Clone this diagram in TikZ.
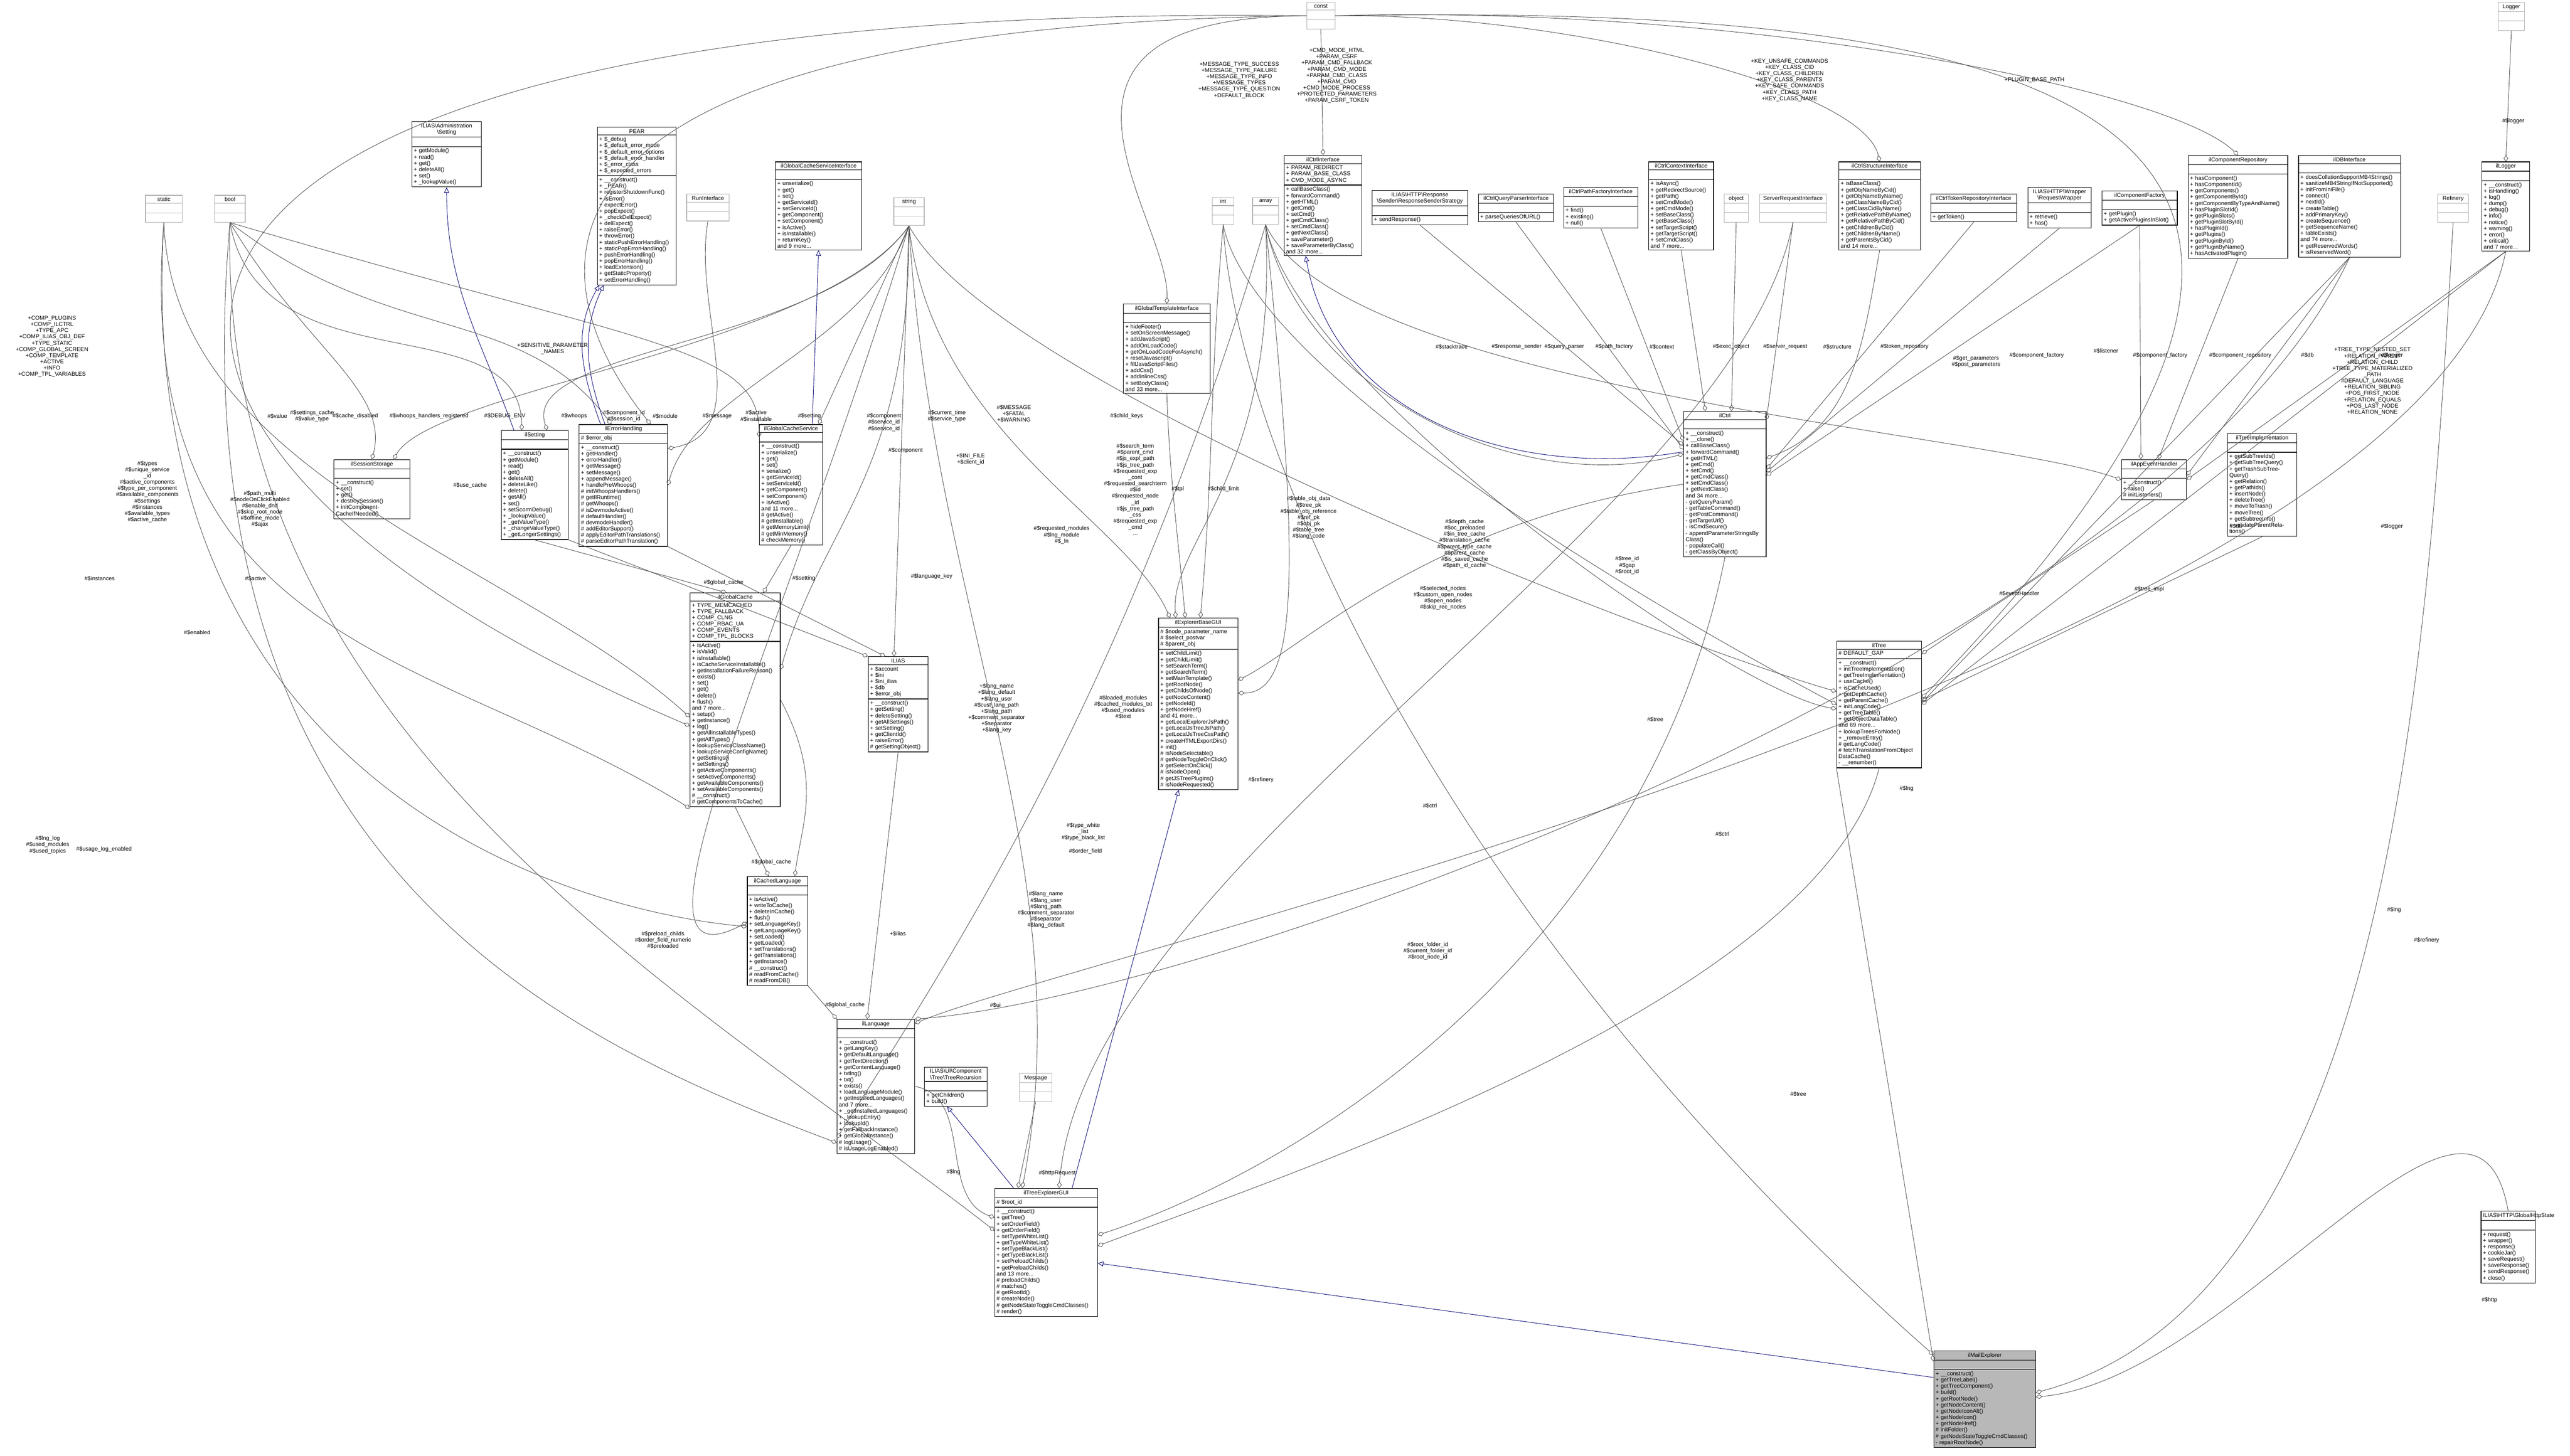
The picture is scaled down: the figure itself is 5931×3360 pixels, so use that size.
\documentclass[tikz,border=0pt]{standalone}
\usepackage{fontspec}
\setmainfont{Liberation Sans}
\usetikzlibrary{shapes.multipart,arrows.meta}
\newlength\pxu \setlength\pxu{0.01cm}
\newcommand\cf{\fontsize{3.7}{4.1}\selectfont}
\newcommand\mys{\rule[-1pt]{0pt}{3.6pt}}
\newcommand\bs{\textbackslash}
\tikzset{
 cls/.style={rectangle split, rectangle split parts=3, draw=black, line width=0.4pt, fill=white,
   anchor=north west, align=left, inner xsep=1.2pt, inner ysep=1.1pt, font=\cf},
 gcls/.style={cls, draw=black!30},
 agg/.style={draw=black!70, line width=0.3pt, -{Diamond[open,length=4.2pt,width=3pt]}},
 inh/.style={draw=blue!45!black, line width=0.3pt, -{Triangle[open,length=3.6pt,width=3.2pt]}},
 lbl/.style={font=\cf, align=center, inner sep=0.5pt}
}
\newcommand\cls[7][]{\node[cls,#1,text width=\dimexpr#5\pxu-2.4pt\relax] (#2) at (#3,#4)
 {{\centering #6\par}\nodepart{two}\mys#7\nodepart{three}\mys};}
\newcommand\clsm[8][]{\node[cls,#1,text width=\dimexpr#5\pxu-2.4pt\relax] (#2) at (#3,#4)
 {{\centering #6\par}\nodepart{two}\mys#7\nodepart{three}#8};}
\begin{document}
\begin{tikzpicture}[x=0.01cm,y=-0.01cm]
\useasboundingbox[fill=white] (0,0) rectangle (5931,3360);
% ---------- gray boxes
\cls[gcls]{const}{3015}{5}{65}{const}{}
\cls[gcls]{Logger}{5765}{5}{60}{Logger}{}
\cls[gcls]{static}{335}{450}{85}{static}{}
\cls[gcls]{bool}{495}{450}{70}{bool}{}
\cls[gcls]{string}{2062}{455}{70}{string}{}
\cls[gcls]{int}{2797}{455}{50}{int}{}
\cls[gcls]{array}{2890}{455}{60}{array}{}
\cls[gcls]{run}{1584}{447}{98}{RunInterface}{}
\cls[gcls]{object}{3978}{447}{56}{object}{}
\cls[gcls]{sri}{4060}{447}{154}{ServerRequestInterface}{}
\cls[gcls]{refinery}{5625}{447}{71}{Refinery}{}
\cls[gcls]{message}{2352}{2477}{75}{Message}{}
% ---------- top row
\clsm{admset}{950}{280}{160}{ILIAS\bs{}Administration\\\bs{}Setting}{}{+ getModule()\\+ read()\\+ get()\\+ deleteAll()\\+ set()\\+ \_lookupValue()}
\clsm{pear}{1378}{293}{182}{PEAR}{+ \$\_debug\\+ \$\_default\_error\_mode\\+ \$\_default\_error\_options\\+ \$\_default\_error\_handler\\+ \$\_error\_class\\+ \$\_expected\_errors}{+ \_\_construct()\\+ \_PEAR()\\+ registerShutdownFunc()\\+ isError()\\+ expectError()\\+ popExpect()\\+ \_checkDelExpect()\\+ delExpect()\\+ raiseError()\\+ throwError()\\+ staticPushErrorHandling()\\+ staticPopErrorHandling()\\+ pushErrorHandling()\\+ popErrorHandling()\\+ loadExtension()\\+ getStaticProperty()\\+ setErrorHandling()}
\clsm{gcsi}{1789}{373}{199}{ilGlobalCacheServiceInterface}{}{+ unserialize()\\+ get()\\+ set()\\+ getServiceId()\\+ setServiceId()\\+ getComponent()\\+ setComponent()\\+ isActive()\\+ isInstallable()\\+ returnKey()\\and 9 more...}
\clsm{gti}{2592}{701}{200}{ilGlobalTemplateInterface}{}{+ hideFooter()\\+ setOnScreenMessage()\\+ addJavaScript()\\+ addOnLoadCode()\\+ getOnLoadCodeForAsynch()\\+ resetJavascript()\\+ fillJavaScriptFiles()\\+ addCss()\\+ addInlineCss()\\+ setBodyClass()\\and 33 more...}
\clsm{ctrlif}{2963}{358}{179}{ilCtrlInterface}{+ PARAM\_REDIRECT\\+ PARAM\_BASE\_CLASS\\+ CMD\_MODE\_ASYNC}{+ callBaseClass()\\+ forwardCommand()\\+ getHTML()\\+ getCmd()\\+ setCmd()\\+ getCmdClass()\\+ setCmdClass()\\+ getNextClass()\\+ saveParameter()\\+ saveParameterByClass()\\and 32 more...}
\clsm{resp}{3166}{439}{220}{ILIAS\bs{}HTTP\bs{}Response\\\bs{}Sender\bs{}ResponseSenderStrategy}{}{+ sendResponse()}
\clsm{qp}{3411}{447}{174}{ilCtrlQueryParserInterface}{}{+ parseQueriesOfURL()}
\clsm{pf}{3608}{432}{171}{ilCtrlPathFactoryInterface}{}{+ find()\\+ existing()\\+ null()}
\clsm{ctx}{3804}{373}{150}{ilCtrlContextInterface}{}{+ isAsync()\\+ getRedirectSource()\\+ getPath()\\+ setCmdMode()\\+ getCmdMode()\\+ setBaseClass()\\+ getBaseClass()\\+ setTargetScript()\\+ getTargetScript()\\+ setCmdClass()\\and 7 more...}
\clsm{struct}{4243}{373}{188}{ilCtrlStructureInterface}{}{+ isBaseClass()\\+ getObjNameByCid()\\+ getObjNameByName()\\+ getClassNameByCid()\\+ getClassCidByName()\\+ getRelativePathByName()\\+ getRelativePathByCid()\\+ getChildrenByCid()\\+ getChildrenByName()\\+ getParentsByCid()\\and 14 more...}
\clsm{token}{4455}{447}{198}{ilCtrlTokenRepositoryInterface}{}{+ getToken()}
\clsm{reqw}{4679}{432}{146}{ILIAS\bs{}HTTP\bs{}Wrapper\\\bs{}RequestWrapper}{}{+ retrieve()\\+ has()}
\clsm{compf}{4850}{440}{174}{ilComponentFactory}{}{+ getPlugin()\\+ getActivePluginsInSlot()}
\clsm{comprep}{5049}{358}{230}{ilComponentRepository}{}{+ hasComponent()\\+ hasComponentId()\\+ getComponents()\\+ getComponentById()\\+ getComponentByTypeAndName()\\+ hasPluginSlotId()\\+ getPluginSlots()\\+ getPluginSlotById()\\+ hasPluginId()\\+ getPlugins()\\+ getPluginById()\\+ getPluginByName()\\+ hasActivatedPlugin()}
\clsm{dbi}{5304}{358}{235}{ilDBInterface}{}{+ doesCollationSupportMB4Strings()\\+ sanitizeMB4StringIfNotSupported()\\+ initFromIniFile()\\+ connect()\\+ nextId()\\+ createTable()\\+ addPrimaryKey()\\+ createSequence()\\+ getSequenceName()\\+ tableExists()\\and 74 more...\\+ getReservedWords()\\+ isReservedWord()}
\clsm{logger}{5727}{373}{110}{ilLogger}{}{+ \_\_construct()\\+ isHandling()\\+ log()\\+ dump()\\+ debug()\\+ info()\\+ notice()\\+ warning()\\+ error()\\+ critical()\\and 7 more...}
% ---------- middle
\clsm{sess}{770}{1060}{175}{ilSessionStorage}{}{+ \_\_construct()\\+ set()\\+ get()\\+ destroySession()\\+ initComponentCacheIfNeeded()}
\clsm{setting}{1156}{993}{155}{ilSetting}{}{+ \_\_construct()\\+ getModule()\\+ read()\\+ get()\\+ deleteAll()\\+ deleteLike()\\+ delete()\\+ getAll()\\+ set()\\+ setScormDebug()\\+ \_lookupValue()\\+ \_getValueType()\\+ \_changeValueType()\\+ \_getLongerSettings()}
\clsm{err}{1336}{979}{204}{ilErrorHandling}{\# \$error\_obj}{+ \_\_construct()\\+ getHandler()\\+ errorHandler()\\+ getMessage()\\+ setMessage()\\+ appendMessage()\\+ handlePreWhoops()\\\# initWhoopsHandlers()\\\# getIlRuntime()\\\# getWhoops()\\\# isDevmodeActive()\\\# defaultHandler()\\\# devmodeHandler()\\\# addEditorSupport()\\\# applyEditorPathTranslations()\\\# parseEditorPathTranslation()}
\clsm{gcs}{1752}{979}{146}{ilGlobalCacheService}{}{+ \_\_construct()\\+ unserialize()\\+ get()\\+ set()\\+ serialize()\\+ getServiceId()\\+ setServiceId()\\+ getComponent()\\+ setComponent()\\+ isActive()\\and 11 more...\\\# getActive()\\\# getInstallable()\\\# getMemoryLimit()\\\# getMinMemory()\\\# checkMemory()}
\clsm{ctrl}{3885}{949}{190}{ilCtrl}{}{+ \_\_construct()\\+ \_\_clone()\\+ callBaseClass()\\+ forwardCommand()\\+ getHTML()\\+ getCmd()\\+ setCmd()\\+ getCmdClass()\\+ setCmdClass()\\+ getNextClass()\\and 34 more...\\- getQueryParam()\\- getTableCommand()\\- getPostCommand()\\- getTargetUrl()\\- isCmdSecure()\\- appendParameterStringsBy\\Class()\\- populateCall()\\- getClassByObject()}
\clsm{aeh}{4895}{1060}{150}{ilAppEventHandler}{}{+ \_\_construct()\\+ raise()\\\# initListeners()}
\clsm{timpl}{5140}{1000}{160}{ilTreeImplementation}{}{+ getSubTreeIds()\\+ getSubTreeQuery()\\+ getTrashSubTreeQuery()\\+ getRelation()\\+ getPathIds()\\+ insertNode()\\+ deleteTree()\\+ moveToTrash()\\+ moveTree()\\+ getSubtreeInfo()\\+ validateParentRelations()}
\clsm{gc}{1592}{1368}{208}{ilGlobalCache}{+ TYPE\_MEMCACHED\\+ TYPE\_FALLBACK\\+ COMP\_CLNG\\+ COMP\_RBAC\_UA\\+ COMP\_EVENTS\\+ COMP\_TPL\_BLOCKS}{+ isActive()\\+ isValid()\\+ isInstallable()\\+ isCacheServiceInstallable()\\+ getInstallationFailureReason()\\+ exists()\\+ set()\\+ get()\\+ delete()\\+ flush()\\and 7 more...\\+ setup()\\+ getInstance()\\+ log()\\+ getAllInstallableTypes()\\+ getAllTypes()\\+ lookupServiceClassName()\\+ lookupServiceConfigName()\\+ getSettings()\\+ setSettings()\\+ getActiveComponents()\\+ setActiveComponents()\\+ getAvailableComponents()\\+ setAvailableComponents()\\\# \_\_construct()\\\# getComponentsToCache()}
\clsm{ilias}{2003}{1515}{138}{ILIAS}{+ \$account\\+ \$ini\\+ \$ini\_ilias\\+ \$db\\+ \$error\_obj}{+ \_\_construct()\\+ getSetting()\\+ deleteSetting()\\+ getAllSettings()\\+ setSetting()\\+ getClientId()\\+ raiseError()\\\# getSettingObject()}
\clsm{ebgui}{2673}{1426}{183}{ilExplorerBaseGUI}{\# \$node\_parameter\_name\\\# \$select\_postvar\\\# \$parent\_obj}{+ setChildLimit()\\+ getChildLimit()\\+ setSearchTerm()\\+ getSearchTerm()\\+ setMainTemplate()\\+ getRootNode()\\+ getChildsOfNode()\\+ getNodeContent()\\+ getNodeId()\\+ getNodeHref()\\and 41 more...\\+ getLocalExplorerJsPath()\\+ getLocalJsTreeJsPath()\\+ getLocalJsTreeCssPath()\\+ createHTMLExportDirs()\\+ init()\\\# isNodeSelectable()\\\# getNodeToggleOnClick()\\\# getSelectOnClick()\\\# isNodeOpen()\\\# getJSTreePlugins()\\\# isNodeRequested()}
\clsm{tree}{4238}{1479}{196}{ilTree}{\# DEFAULT\_GAP}{+ \_\_construct()\\+ initTreeImplementation()\\+ getTreeImplementation()\\+ useCache()\\+ isCacheUsed()\\+ getDepthCache()\\+ getParentCache()\\+ initLangCode()\\+ getTreeTable()\\+ getObjectDataTable()\\and 69 more...\\+ lookupTreesForNode()\\+ \_removeEntry()\\\# getLangCode()\\\# fetchTranslationFromObject\\DataCache()\\- \_\_renumber()}
\clsm{clang}{1724}{2022}{139}{ilCachedLanguage}{}{+ isActive()\\+ writeToCache()\\+ deleteInCache()\\+ flush()\\+ setLanguageKey()\\+ getLanguageKey()\\+ setLoaded()\\+ getLoaded()\\+ setTranslations()\\+ getTranslations()\\+ getInstance()\\\# \_\_construct()\\\# readFromCache()\\\# readFromDB()}
\clsm{lang}{1931}{2352}{179}{ilLanguage}{}{+ \_\_construct()\\+ getLangKey()\\+ getDefaultLanguage()\\+ getTextDirection()\\+ getContentLanguage()\\+ txtlng()\\+ txt()\\+ exists()\\+ loadLanguageModule()\\+ getInstalledLanguages()\\and 7 more...\\+ \_getInstalledLanguages()\\+ \_lookupEntry()\\+ lookupId()\\+ getFallbackInstance()\\+ getGlobalInstance()\\\# logUsage()\\\# isUsageLogEnabled()}
\clsm{rec}{2133}{2462}{144}{ILIAS\bs{}UI\bs{}Component\\\bs{}Tree\bs{}TreeRecursion}{}{+ getChildren()\\+ build()}
\clsm{tegui}{2295}{2742}{237}{ilTreeExplorerGUI}{\# \$root\_id}{+ \_\_construct()\\+ getTree()\\+ setOrderField()\\+ getOrderField()\\+ setTypeWhiteList()\\+ getTypeWhiteList()\\+ setTypeBlackList()\\+ getTypeBlackList()\\+ setPreloadChilds()\\+ getPreloadChilds()\\and 13 more...\\\# preloadChilds()\\\# matches()\\\# getRootId()\\\# createNode()\\\# getNodeStateToggleCmdClasses()\\\# render()}
\clsm{http}{5725}{2795}{125}{ILIAS\bs{}HTTP\bs{}GlobalHttpState}{}{+ request()\\+ wrapper()\\+ response()\\+ cookieJar()\\+ saveRequest()\\+ saveResponse()\\+ sendResponse()\\+ close()}
\clsm[fill=black!28]{mail}{4462}{3117}{235}{ilMailExplorer}{}{+ \_\_construct()\\+ getTreeLabel()\\+ getTreeComponent()\\+ build()\\+ getRootNode()\\+ getNodeContent()\\+ getNodeIconAlt()\\+ getNodeIcon()\\+ getNodeHref()\\\# initFolder()\\\# getNodeStateToggleCmdClasses()\\- repairRootNode()}
% ---------- inheritance
\draw[inh] ([yshift=0.5cm]mail.west) -- ([yshift=-0.25cm]tegui.east);
\draw[inh] ([xshift=0.6cm]tegui.north) -- ([xshift=-0.45cm]ebgui.south);
\draw[inh] ([xshift=-0.75cm]tegui.north) -- ([xshift=-0.2cm]rec.south);
\draw[inh] ([yshift=0.75cm]ctrl.west) to[out=190,in=-80] ([xshift=-0.4cm]ctrlif.south);
\draw[inh] ([xshift=0.5cm]err.north west) to[out=110,in=-120] ([xshift=0.05cm]pear.south west);
\draw[inh] ([xshift=0.6cm]err.north west) to[out=110,in=-115] ([xshift=0.15cm]pear.south west);
\draw[inh] ([xshift=0.3cm]setting.north west) to[out=110,in=-90] (admset.south);
\draw[inh] ([xshift=-0.25cm]gcs.north east) -- ([xshift=0cm]gcsi.south);
% ---------- aggregations
\draw[agg] (tree.south west) -- ([yshift=-0.25cm]mail.north west);
\draw[agg] (int.south) .. controls (2850,1000) and (3300,2100) .. ([yshift=-0.1cm]mail.north west);
\draw[agg] (http.north) to[out=100,in=5] ([yshift=0.05cm]mail.east);
\draw[agg] (refinery.south) .. controls (5600,1600) and (5500,3000) .. ([yshift=0.15cm]mail.east);
\draw[agg] (tree.south) .. controls (4200,2300) and (3000,2700) .. ([yshift=0.15cm]tegui.east);
\draw[agg] (ctrl.south) .. controls (3800,2200) and (3000,2700) .. ([yshift=0.4cm]tegui.east);
\draw[agg] (lang.east) to[out=-10,in=160] ([yshift=0.8cm]tegui.west);
\draw[agg] (bool.south) .. controls (500,1700) and (1600,2300) .. ([yshift=0.5cm]tegui.west);
\draw[agg] (message.south) -- ([xshift=-0.65cm]tegui.north);
\draw[agg] (sri.south) .. controls (4000,1200) and (2500,2000) .. ([xshift=0.3cm]tegui.north);
\draw[agg] (string.south) .. controls (2150,1400) and (2500,2000) .. ([xshift=-0.55cm]tegui.north);
\draw[agg] (gti.south) to[out=-88,in=95] ([xshift=-0.3cm]ebgui.north);
\draw[agg] (int.south) to[out=-95,in=85] ([xshift=0.05cm]ebgui.north);
\draw[agg] (string.south) .. controls (2150,1000) and (2600,1200) .. ([xshift=-0.65cm]ebgui.north);
\draw[agg] (array.south) .. controls (2950,1100) and (2700,1250) .. ([xshift=-0.52cm]ebgui.north);
\draw[agg] (ctrl.west) .. controls (3300,1200) and (3000,1500) .. ([yshift=0.55cm]ebgui.east);
\draw[agg] (array.south) .. controls (3000,1300) and (3000,1600) .. ([yshift=0.25cm]ebgui.east);
\draw[agg] (resp.south) -- ([yshift=0.9cm]ctrl.west);
\draw[agg] (qp.south) -- ([yshift=0.8cm]ctrl.west);
\draw[agg] (pf.south) -- ([yshift=1.0cm]ctrl.west);
\draw[agg] (ctx.south) -- ([xshift=-0.45cm]ctrl.north);
\draw[agg] (object.south) -- ([xshift=0.15cm]ctrl.north);
\draw[agg] (sri.south) -- ([yshift=-0.2cm]ctrl.north east);
\draw[agg] (struct.south) to[out=-100,in=20] ([yshift=0.6cm]ctrl.east);
\draw[agg] (token.south) -- ([yshift=0.35cm]ctrl.east);
\draw[agg] (reqw.south) -- ([yshift=0.28cm]ctrl.east);
\draw[agg] (compf.south) -- ([yshift=0.2cm]ctrl.east);
\draw[agg] (array.south) .. controls (3000,900) and (3500,1150) .. ([yshift=0.7cm]ctrl.west);
\draw[agg] (compf.south) -- ([xshift=-0.3cm]aeh.north);
\draw[agg] (comprep.south) -- ([xshift=0.1cm]aeh.north);
\draw[agg] (dbi.south) -- ([yshift=0.1cm]aeh.east);
\draw[agg] (logger.south) -- ([yshift=0cm]aeh.east);
\draw[agg] (array.south) .. controls (3100,900) and (4600,1000) .. (aeh.west);
\draw[agg] (dbi.south) -- ([yshift=0.05cm]tree.east);
\draw[agg] (logger.south) -- ([yshift=0cm]tree.east);
\draw[agg] (timpl.south) -- ([yshift=0.1cm]tree.east);
\draw[agg] (aeh.south) -- ([yshift=-0.3cm]tree.north east);
\draw[agg] (string.south) .. controls (2300,900) and (3900,1500) .. ([yshift=0.3cm]tree.west);
\draw[agg] (int.south) .. controls (2900,900) and (4000,1500) .. ([yshift=0cm]tree.west);
\draw[agg] (array.south) .. controls (3000,900) and (4000,1600) .. ([yshift=-0.1cm]tree.west);
\draw[agg] (Logger.south) -- (logger.north);
\draw[agg] (const.west) .. controls (2300,40) and (2700,500) .. (gti.north);
\draw[agg] (const.south) -- (ctrlif.north);
\draw[agg] (const.east) .. controls (3600,30) and (4300,200) .. (struct.north);
\draw[agg] (const.east) .. controls (4000,10) and (5000,200) .. (comprep.north);
\draw[agg] (const.east) .. controls (4600,10) and (5800,200) .. ([yshift=0.15cm]tree.east);
\draw[agg] (const.west) .. controls (1200,60) and (1200,600) .. ([xshift=-0.4cm]err.north east);
\draw[agg] (const.west) .. controls (0,0) and (0,1000) .. ([yshift=-0.6cm]gc.west);
\draw[agg] (static.south) .. controls (400,1100) and (1200,1300) .. ([yshift=-0.4cm]gc.west);
\draw[agg] (bool.south) .. controls (600,900) and (1200,700) .. ([xshift=-0.3cm]setting.north);
\draw[agg] (string.south) .. controls (1900,800) and (1200,800) .. ([xshift=-0.5cm]setting.north east);
\draw[agg] (bool.south) .. controls (900,800) and (1200,700) .. ([xshift=0.75cm]err.north west);
\draw[agg] (run.south) to[out=-100,in=10] ([yshift=0.85cm]err.east);
\draw[agg] (string.south) .. controls (2000,800) and (1600,900) .. (err.east);
\draw[agg] (bool.south) .. controls (700,800) and (900,900) .. (sess.north);
\draw[agg] (string.south) .. controls (1900,800) and (1000,900) .. ([xshift=0.5cm]sess.north);
\draw[agg] (bool.south) .. controls (1500,800) and (1750,800) .. ([yshift=-0.3cm]gcs.north west);
\draw[agg] (string.south) -- ([xshift=-0.1cm]gcs.north east);
\draw[agg] (gcs.south) -- ([xshift=-0.4cm]gc.north east);
\draw[agg] (setting.south) -- ([xshift=-0.2cm]gc.north);
\draw[agg] (string.south) .. controls (2100,1100) and (1900,1200) .. ([yshift=0.7cm]gc.east);
\draw[agg] (static.south) .. controls (300,1500) and (1000,1500) .. ([yshift=-2.5cm]gc.west);
\draw[agg] (setting.south east) -- (ilias.north west);
\draw[agg] (err.south east) -- ([xshift=0.4cm]ilias.north west);
\draw[agg] (string.south) -- ([xshift=0.6cm]ilias.north west);
\draw[agg] (gc.south) -- ([xshift=-0.2cm]clang.north);
\draw[agg] (gc.east) .. controls (1900,1800) and (1850,1900) .. ([xshift=0.4cm]clang.north);
\draw[agg] (clang.south east) -- (lang.north west);
\draw[agg] (ilias.south) -- ([xshift=-0.2cm]lang.north);
\draw[agg] (dbi.south) .. controls (5000,1500) and (2800,2300) .. (lang.north east);
\draw[agg] (logger.south) .. controls (5600,1500) and (2500,2200) .. ([yshift=-0.1cm]lang.north east);
\draw[agg] (bool.south) .. controls (400,2000) and (1300,2400) .. ([yshift=-1.3cm]lang.west);
\draw[agg] (array.south) .. controls (2600,1600) and (2200,2200) .. ([yshift=-1.2cm]lang.west);
\draw[agg] (string.south) .. controls (1800,1500) and (1400,2300) .. ([yshift=0.2cm]clang.west);
\draw[agg] (static.south) .. controls (300,1800) and (1300,2100) .. ([yshift=0.1cm]clang.west);
% ---------- labels
\node[lbl] (l1) at (2860,185) {+MESSAGE\_TYPE\_SUCCESS\\+MESSAGE\_TYPE\_FAILURE\\+MESSAGE\_TYPE\_INFO\\+MESSAGE\_TYPES\\+MESSAGE\_TYPE\_QUESTION\\+DEFAULT\_BLOCK};
\node[lbl] (l2) at (3085,175) {+CMD\_MODE\_HTML\\+PARAM\_CSRF\\+PARAM\_CMD\_FALLBACK\\+PARAM\_CMD\_MODE\\+PARAM\_CMD\_CLASS\\+PARAM\_CMD\\+CMD\_MODE\_PROCESS\\+PROTECTED\_PARAMETERS\\+PARAM\_CSRF\_TOKEN};
\node[lbl] (l3) at (4130,185) {+KEY\_UNSAFE\_COMMANDS\\+KEY\_CLASS\_CID\\+KEY\_CLASS\_CHILDREN\\+KEY\_CLASS\_PARENTS\\+KEY\_SAFE\_COMMANDS\\+KEY\_CLASS\_PATH\\+KEY\_CLASS\_NAME};
\node[lbl] (l4) at (4695,185) {+PLUGIN\_BASE\_PATH};
\node[lbl] (l5) at (5800,280) {\#\$logger};
\node[lbl] (l6) at (1275,805) {+SENSITIVE\_PARAMETER\\\_NAMES};
\node[lbl] (l7) at (120,800) {+COMP\_PLUGINS\\+COMP\_ILCTRL\\+TYPE\_APC\\+COMP\_ILIAS\_OBJ\_DEF\\+TYPE\_STATIC\\+COMP\_GLOBAL\_SCREEN\\+COMP\_TEMPLATE\\+ACTIVE\\+INFO\\+COMP\_TPL\_VARIABLES};
\node[lbl] (l8) at (340,1135) {\#\$types\\\#\$unique\_service\\\_id\\\#\$active\_components\\\#\$type\_per\_component\\\#\$available\_components\\\#\$settings\\\#\$instances\\\#\$available\_types\\\#\$active\_cache};
\node[lbl] (l9) at (230,1335) {\#\$instances};
\node[lbl] (l10) at (590,1335) {\#\$active};
\node[lbl] (l11) at (640,960) {\#\$value};
\node[lbl] (l12) at (720,960) {\#\$settings\_cache\\\#\$value\_type};
\node[lbl] (l13) at (820,960) {\#\$cache\_disabled};
\node[lbl] (l14) at (990,960) {\#\$whoops\_handlers\_registered};
\node[lbl] (l15) at (1165,960) {\#\$DEBUG\_ENV};
\node[lbl] (l16) at (1325,960) {\#\$whoops};
\node[lbl] (l17) at (1440,960) {\#\$component\_id\\\#\$session\_id};
\node[lbl] (l18) at (1535,960) {\#\$module};
\node[lbl] (l19) at (1655,960) {\#\$message};
\node[lbl] (l20) at (1745,960) {\#\$active\\\#\$installable};
\node[lbl] (l21) at (1868,960) {\#\$setting};
\node[lbl] (l22) at (2040,975) {\#\$component\\\#\$service\_id\\\#\$service\_id};
\node[lbl] (l23) at (2185,960) {\#\$current\_time\\\#\$service\_type};
\node[lbl] (l24) at (2340,955) {\#\$MESSAGE\\+\$FATAL\\+\$WARNING};
\node[lbl] (l25) at (2600,960) {\#\$child\_keys};
\node[lbl] (l26) at (1670,1345) {\#\$global\_cache};
\node[lbl] (l27) at (1855,1335) {\#\$setting};
\node[lbl] (l28) at (2150,1330) {\#\$language\_key};
\node[lbl] (l29) at (2090,1040) {\#\$component};
\node[lbl] (l30) at (2240,1060) {+\$INI\_FILE\\+\$client\_id};
\node[lbl] (l31) at (1085,1120) {\#\$use\_cache};
\node[lbl] (l32) at (600,1175) {\#\$path\_multi\\\#\$nodeOnClickEnabled\\\#\$enable\_dnd\\\#\$skip\_root\_node\\\#\$offline\_mode\\\#\$ajax};
\node[lbl] (l33) at (2450,1235) {\#\$requested\_modules\\\#\$lng\_module\\\#\$\_ln};
\node[lbl] (l34) at (2300,1635) {+\$lang\_name\\+\$lang\_default\\+\$lang\_user\\\#\$cust\_lang\_path\\+\$lang\_path\\+\$comment\_separator\\+\$separator\\+\$lang\_key};
\node[lbl] (l35) at (2592,1632) {\#\$loaded\_modules\\\#\$cached\_modules\_txt\\\#\$used\_modules\\\#\$text};
\node[lbl] (l36) at (2620,1130) {\#\$search\_term\\\#\$parent\_cmd\\\#\$js\_expl\_path\\\#\$js\_tree\_path\\\#\$requested\_exp\\\_cont\\\#\$requested\_searchterm\\\#\$id\\\#\$requested\_node\\\_id\\\#\$js\_tree\_path\\\_css\\\#\$requested\_exp\\\_cmd\\...};
\node[lbl] (l37) at (2718,1129) {\#\$tpl};
\node[lbl] (l38) at (2823,1129) {\#\$child\_limit};
\node[lbl] (l39) at (3020,1195) {\#\$table\_obj\_data\\\#\$tree\_pk\\\#\$table\_obj\_reference\\\#\$ref\_pk\\\#\$obj\_pk\\\#\$table\_tree\\\#\$lang\_code};
\node[lbl] (l40) at (3330,1380) {\#\$selected\_nodes\\\#\$custom\_open\_nodes\\\#\$open\_nodes\\\#\$skip\_rec\_nodes};
\node[lbl] (l41) at (3350,800) {\#\$stacktrace};
\node[lbl] (l42) at (3500,800) {\#\$response\_sender};
\node[lbl] (l43) at (3610,800) {\#\$query\_parser};
\node[lbl] (l44) at (3725,800) {\#\$path\_factory};
\node[lbl] (l45) at (3835,800) {\#\$context};
\node[lbl] (l46) at (3995,800) {\#\$exec\_object};
\node[lbl] (l47) at (4120,800) {\#\$server\_request};
\node[lbl] (l48) at (4240,800) {\#\$structure};
\node[lbl] (l49) at (4395,800) {\#\$token\_repository};
\node[lbl] (l50) at (4560,835) {\#\$get\_parameters\\\#\$post\_parameters};
\node[lbl] (l51) at (4700,820) {\#\$component\_factory};
\node[lbl] (l52) at (4860,810) {\#\$listener};
\node[lbl] (l53) at (4985,820) {\#\$component\_factory};
\node[lbl] (l54) at (5170,820) {\#\$component\_repository};
\node[lbl] (l55) at (5325,820) {\#\$db};
\node[lbl] (l56) at (5520,820) {\#\$logger};
\node[lbl] (l57) at (5475,880) {+TREE\_TYPE\_NESTED\_SET\\+RELATION\_PARENT\\+RELATION\_CHILD\\+TREE\_TYPE\_MATERIALIZED\\\_PATH\\\#DEFAULT\_LANGUAGE\\+RELATION\_SIBLING\\+POS\_FIRST\_NODE\\+RELATION\_EQUALS\\+POS\_LAST\_NODE\\+RELATION\_NONE};
\node[lbl] (l58) at (5160,1215) {\#\$db};
\node[lbl] (l59) at (5520,1215) {\#\$logger};
\node[lbl] (l60) at (4960,1360) {\#\$tree\_impl};
\node[lbl] (l61) at (4660,1370) {\#\$eventHandler};
\node[lbl] (l62) at (3755,1305) {\#\$tree\_id\\\#\$gap\\\#\$root\_id};
\node[lbl] (l63) at (3380,1255) {\#\$depth\_cache\\\#\$oc\_preloaded\\\#\$in\_tree\_cache\\\#\$translation\_cache\\\#\$parent\_type\_cache\\\#\$parent\_cache\\\#\$is\_saved\_cache\\\#\$path\_id\_cache};
\node[lbl] (l64) at (1530,2170) {\#\$preload\_childs\\\#\$order\_field\_numeric\\\#\$preloaded};
\node[lbl] (l65) at (110,1950) {\#\$lng\_log\\\#\$used\_modules\\\#\$used\_topics};
\node[lbl] (l66) at (240,1960) {\#\$usage\_log\_enabled};
\node[lbl] (l67) at (455,1460) {\#\$enabled};
\node[lbl] (l68) at (1780,1990) {\#\$global\_cache};
\node[lbl] (l69) at (1950,2320) {\#\$global\_cache};
\node[lbl] (l70) at (2072,2155) {+\$ilias};
\node[lbl] (l71) at (2297,2320) {\#\$ui};
\node[lbl] (l72) at (2505,1965) {\#\$order\_field};
\node[lbl] (l73) at (2500,1920) {\#\$type\_white\\\_list\\\#\$type\_black\_list};
\node[lbl] (l74) at (2414,2100) {\#\$lang\_name\\\#\$lang\_user\\\#\$lang\_path\\\#\$comment\_separator\\\#\$separator\\\#\$lang\_default};
\node[lbl] (l75) at (2440,2708) {\#\$httpRequest};
\node[lbl] (l76) at (2200,2705) {\#\$lng};
\node[lbl] (l77) at (3295,2195) {\#\$root\_folder\_id\\\#\$current\_folder\_id\\\#\$root\_node\_id};
\node[lbl] (l78) at (4150,2525) {\#\$tree};
\node[lbl] (l79) at (5525,2100) {\#\$lng};
\node[lbl] (l80) at (5600,2170) {\#\$refinery};
\node[lbl] (l81) at (5745,3000) {\#\$http};
\node[lbl] (l82) at (3975,1925) {\#\$ctrl};
\node[lbl] (l83) at (3820,1660) {\#\$tree};
\node[lbl] (l84) at (4400,1820) {\#\$lng};
\node[lbl] (l85) at (3300,1860) {\#\$ctrl};
\node[lbl] (l86) at (2910,1800) {\#\$refinery};
\end{tikzpicture}
\end{document}
